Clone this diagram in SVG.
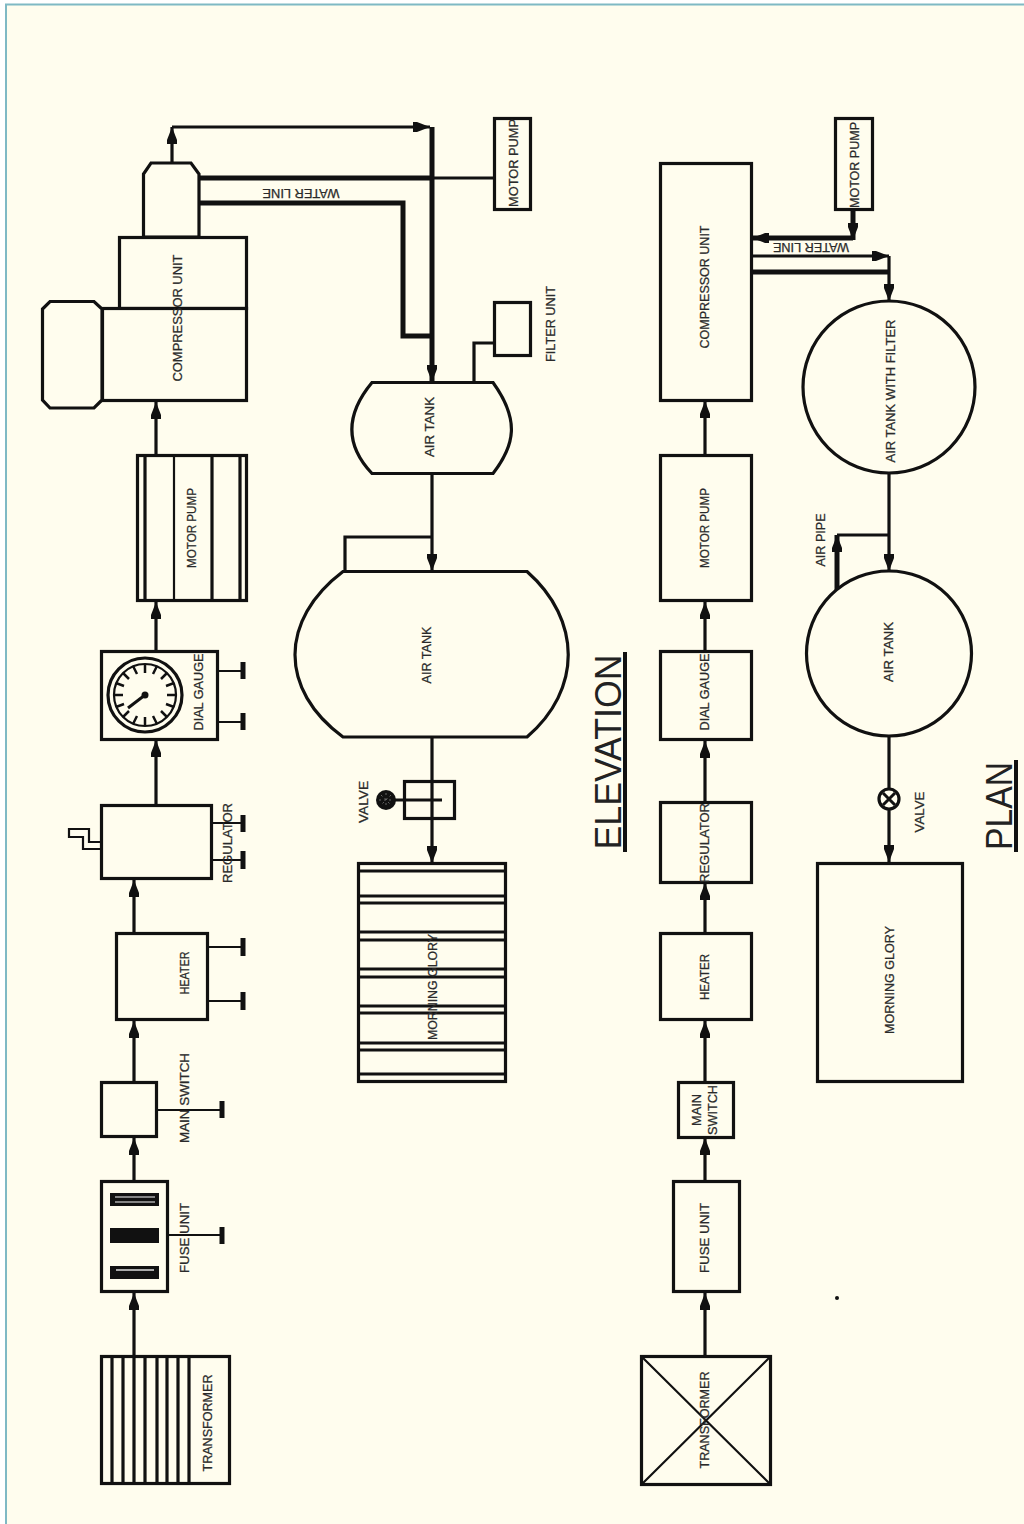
<svg xmlns="http://www.w3.org/2000/svg" width="1024" height="1524" viewBox="0 0 1024 1524">
<style>
.s{fill:none;stroke:#111;stroke-width:3.200}
.b{fill:#fffdee;stroke:#111;stroke-width:3.200}
.t{fill:none;stroke:#111;stroke-width:2.200}
.c{fill:none;stroke:#111;stroke-width:3.200}
.h{fill:none;stroke:#111;stroke-width:5}
text{font-family:"Liberation Sans",Arial,sans-serif;font-size:12px;fill:#2a2a2a;text-anchor:middle;stroke:#2a2a2a;stroke-width:.25}
.big{font-size:36px;fill:#222;stroke:none}
</style>
<defs>
<marker id="a" markerUnits="userSpaceOnUse" markerWidth="20" markerHeight="14" refX="17" refY="7" orient="auto"><path d="M0 2 L4 2 L17 7 L4 12 L0 12 Z" fill="#111"/></marker>
</defs>
<rect x="0" y="0" width="1024" height="1524" fill="#fffdee"/>
<path d="M0 2H1024M2.500 0V1524" stroke="#fff" stroke-width="5" fill="none"/>
<path d="M6 1524V4.500H1024" stroke="#7fb9c4" stroke-width="2" fill="none"/>

<g id="connectors">
<path class="c" marker-end="url(#a)" d="M134 1356V1293"/>
<path class="c" marker-end="url(#a)" d="M134 1181V1138"/>
<path class="c" marker-end="url(#a)" d="M134 1082V1021"/>
<path class="c" marker-end="url(#a)" d="M134 933V880"/>
<path class="c" marker-end="url(#a)" d="M156 805V740"/>
<path class="c" marker-end="url(#a)" d="M156 651V602"/>
<path class="c" marker-end="url(#a)" d="M156 455V402"/>
<path class="c" marker-end="url(#a)" d="M172 162V127"/>
<path class="c" marker-end="url(#a)" d="M172 127H430"/>
<path class="h" marker-end="url(#a)" d="M432 127V382"/>
<path class="h" d="M199 178H432"/>
<path class="c" d="M432 178H494"/>
<path class="h" d="M199 203H403V336H432"/>
<path class="c" d="M494 343H474V382"/>
<path class="c" marker-end="url(#a)" d="M432 473V571"/>
<path class="c" d="M432 537H345V571"/>
<path class="c" marker-end="url(#a)" d="M432 737V863"/>
<path class="c" marker-end="url(#a)" d="M705 1356V1293"/>
<path class="c" marker-end="url(#a)" d="M705 1181V1138"/>
<path class="c" marker-end="url(#a)" d="M705 1082V1021"/>
<path class="c" marker-end="url(#a)" d="M705 933V883"/>
<path class="c" marker-end="url(#a)" d="M705 802V741"/>
<path class="c" marker-end="url(#a)" d="M705 651V602"/>
<path class="c" marker-end="url(#a)" d="M705 455V401"/>
<path class="h" marker-end="url(#a)" d="M853 210V240"/>
<path class="h" marker-end="url(#a)" d="M853 238H752"/>
<path class="c" marker-end="url(#a)" d="M752 256H889"/>
<path class="h" d="M752 272H889"/>
<path class="c" marker-end="url(#a)" d="M889 256V301"/>
<path class="c" marker-end="url(#a)" d="M889 473V571"/>
<path class="c" d="M889 535H837"/>
<path class="h" marker-end="url(#a)" d="M837 592V535"/>
<path class="c" marker-end="url(#a)" d="M889 736V862"/>
</g>

<g id="elev-transformer">
<rect class="b" x="101.500" y="1356.500" width="128" height="127"/>
<path class="s" d="M112 1356V1484M123 1356V1484M134 1356V1484M145 1356V1484M157 1356V1484M167 1356V1484M178 1356V1484M189 1356V1484"/>
<text transform="translate(212 1423) rotate(-90)" textLength="97" lengthAdjust="spacingAndGlyphs">TRANSFORMER</text>
</g>
<g id="elev-fuse">
<rect class="b" x="101.500" y="1181.500" width="66" height="110"/>
<rect x="110" y="1193" width="49" height="13" fill="#111"/><path d="M115 1197H155M115 1202H155" stroke="#aaa" stroke-width="1.500"/>
<rect x="110" y="1228" width="49" height="15" fill="#111"/>
<rect x="110" y="1266" width="49" height="13" fill="#111"/><path d="M116 1270H154" stroke="#aaa" stroke-width="2"/>
<path class="t" d="M168 1235H222"/><path class="h" d="M222 1227V1244"/>
<text transform="translate(189 1238) rotate(-90)" textLength="70" lengthAdjust="spacingAndGlyphs">FUSE  UNIT</text>
</g>
<g id="elev-switch">
<rect class="b" x="101.500" y="1082.500" width="55" height="54"/>
<path class="t" d="M157 1110H222"/><path class="h" d="M222 1101V1118"/>
<text transform="translate(189 1098) rotate(-90)" textLength="90" lengthAdjust="spacingAndGlyphs">MAIN  SWITCH</text>
</g>
<g id="elev-heater">
<rect class="b" x="116.500" y="933.500" width="91" height="86"/>
<path class="t" d="M208 1001H243M208 947H243"/><path class="h" d="M243 992V1010M243 938V956"/>
<text transform="translate(189 973) rotate(-90)" textLength="43" lengthAdjust="spacingAndGlyphs">HEATER</text>
</g>
<g id="elev-regulator">
<rect class="b" x="101.500" y="805.500" width="110" height="73"/>
<path class="t" d="M101 849H83V837H69V829H89V842H101"/>
<path class="t" d="M211 823H243M211 860H243"/><path class="h" d="M243 815V832M243 851V869"/>
<text transform="translate(232 843) rotate(-90)" textLength="80" lengthAdjust="spacingAndGlyphs">REGULATOR</text>
</g>
<g id="elev-gauge">
<rect class="b" x="101.500" y="651.500" width="116" height="88"/>
<circle class="s" cx="145" cy="695" r="37"/><circle class="t" cx="145" cy="695" r="31"/>
<g stroke="#111" stroke-width="2.500">
<path d="M145 664V673M145 726V717M114 695H123M176 695H167M123 673L129 679M167 673L161 679M123 717L129 711M167 717L161 711M133 666L137 674M157 666L153 674M133 724L137 716M157 724L153 716M116 683L124 686M174 683L166 686M116 707L124 704M174 707L166 704"/>
<path d="M145 695L128 708" stroke-width="3"/></g><circle cx="145" cy="695" r="3.500" fill="#111"/>
<path class="t" d="M218 671H243M218 722H243"/><path class="h" d="M243 662V679M243 713V730"/>
<text transform="translate(203 692) rotate(-90)" textLength="77" lengthAdjust="spacingAndGlyphs">DIAL GAUGE</text>
</g>
<g id="elev-motor">
<rect class="b" x="137.500" y="455.500" width="109" height="145"/>
<path class="s" d="M145 455V601M212 455V601M240 455V601"/><path class="t" d="M174 455V601"/>
<text transform="translate(196 528) rotate(-90)" textLength="80" lengthAdjust="spacingAndGlyphs">MOTOR PUMP</text>
</g>
<g id="elev-compressor">
<path class="b" d="M143.500 237V174L151 163H191L199 174V237Z"/>
<rect class="b" x="119.500" y="237.500" width="127" height="71"/>
<rect class="b" x="102.500" y="308.500" width="144" height="92"/>
<path class="b" d="M50 301.500H94L102 309V400L94 408H50L42.500 400V309Z"/>
<text transform="translate(182 318) rotate(-90)" textLength="127" lengthAdjust="spacingAndGlyphs">COMPRESSOR UNIT</text>
</g>
<g id="elev-waterline">
<text transform="translate(301 189) rotate(180)" textLength="77" lengthAdjust="spacingAndGlyphs">WATER LINE</text>
</g>
<g id="elev-pump2">
<rect class="b" x="494.500" y="118.500" width="36" height="91"/>
<text transform="translate(518 163) rotate(-90)" textLength="88" lengthAdjust="spacingAndGlyphs">MOTOR PUMP</text>
</g>
<g id="elev-filter">
<rect class="b" x="494.500" y="302.500" width="36" height="53"/>
<text transform="translate(555 324) rotate(-90)" textLength="76" lengthAdjust="spacingAndGlyphs">FILTER UNIT</text>
</g>
<g id="elev-tank1">
<path class="b" d="M372 382.500H493C520 420 515 445 493 473.500H372C345 445 345 415 372 382.500Z"/>
<text transform="translate(434 427) rotate(-90)" textLength="60" lengthAdjust="spacingAndGlyphs">AIR TANK</text>
</g>
<g id="elev-tank2">
<path class="b" d="M343 571.500H527C582 620 582 690 527 737H343C279 690 279 620 343 571.500Z"/>
<text transform="translate(431 655) rotate(-90)" textLength="57" lengthAdjust="spacingAndGlyphs">AIR TANK</text>
</g>
<g id="elev-valve">
<rect class="s" x="404.500" y="781.500" width="50" height="37"/>
<path class="c" d="M395 800H442"/>
<circle cx="386" cy="800" r="10" fill="#111"/>
<path d="M386 793V807M379 800H393M381 795L391 805M391 795L381 805" stroke="#666" stroke-width="1" stroke-dasharray="2 3"/>
<text transform="translate(368 802) rotate(-90)" textLength="42" lengthAdjust="spacingAndGlyphs">VALVE</text>
</g>
<g id="elev-glory">
<rect class="b" x="358.500" y="863.500" width="147" height="218"/>
<path class="s" d="M358 871H506M358 896H506M358 903H506M358 932H506M358 940H506M358 969H506M358 977H506M358 1006H506M358 1013H506M358 1043H506M358 1050H506M358 1074H506"/>
<text transform="translate(437 987) rotate(-90)" textLength="106" lengthAdjust="spacingAndGlyphs">MORNING GLORY</text>
</g>
<g id="title-elevation">
<text class="big" transform="translate(621 752) rotate(-90)" textLength="195" lengthAdjust="spacingAndGlyphs">ELEVATION</text>
<path d="M625 652V852" stroke="#111" stroke-width="4"/>
</g>

<g id="plan-transformer">
<rect class="b" x="641.500" y="1356.500" width="129" height="128"/>
<path class="t" d="M642 1357L770 1484M770 1357L642 1484"/>
<text transform="translate(709 1420) rotate(-90)" textLength="97" lengthAdjust="spacingAndGlyphs">TRANSFORMER</text>
</g>
<g id="plan-fuse">
<rect class="b" x="673.500" y="1181.500" width="66" height="110"/>
<text transform="translate(709 1238) rotate(-90)" textLength="70" lengthAdjust="spacingAndGlyphs">FUSE  UNIT</text>
</g>
<g id="plan-switch">
<rect class="b" x="678.500" y="1082.500" width="55" height="55"/>
<text transform="translate(701 1110) rotate(-90)" textLength="32" lengthAdjust="spacingAndGlyphs">MAIN</text>
<text transform="translate(717 1110) rotate(-90)" textLength="50" lengthAdjust="spacingAndGlyphs">SWITCH</text>
</g>
<g id="plan-heater">
<rect class="b" x="660.500" y="933.500" width="91" height="86"/>
<text transform="translate(709 977) rotate(-90)" textLength="46" lengthAdjust="spacingAndGlyphs">HEATER</text>
</g>
<g id="plan-regulator">
<rect class="b" x="660.500" y="802.500" width="91" height="80"/>
<text transform="translate(709 843) rotate(-90)" textLength="80" lengthAdjust="spacingAndGlyphs">REGULATOR</text>
</g>
<g id="plan-gauge">
<rect class="b" x="660.500" y="651.500" width="91" height="88"/>
<text transform="translate(709 692) rotate(-90)" textLength="77" lengthAdjust="spacingAndGlyphs">DIAL GAUGE</text>
</g>
<g id="plan-motor">
<rect class="b" x="660.500" y="455.500" width="91" height="145"/>
<text transform="translate(709 528) rotate(-90)" textLength="80" lengthAdjust="spacingAndGlyphs">MOTOR PUMP</text>
</g>
<g id="plan-compressor">
<rect class="b" x="660.500" y="163.500" width="91" height="237"/>
<text transform="translate(709 287) rotate(-90)" textLength="123" lengthAdjust="spacingAndGlyphs">COMPRESSOR UNIT</text>
</g>
<g id="plan-pump2">
<rect class="b" x="835.500" y="118.500" width="37" height="91"/>
<text transform="translate(859 165) rotate(-90)" textLength="86" lengthAdjust="spacingAndGlyphs">MOTOR PUMP</text>
</g>
<g id="plan-waterline">
<text transform="translate(811 243) rotate(180)" textLength="76" lengthAdjust="spacingAndGlyphs">WATER LINE</text>
</g>
<g id="plan-tank1">
<circle class="b" cx="889" cy="387" r="86"/>
<text transform="translate(895 391) rotate(-90)" textLength="143" lengthAdjust="spacingAndGlyphs">AIR TANK WITH FILTER</text>
</g>
<g id="plan-tank2">
<circle class="b" cx="889" cy="653.500" r="82.500"/>
<text transform="translate(893 652) rotate(-90)" textLength="60" lengthAdjust="spacingAndGlyphs">AIR TANK</text>
<text transform="translate(825 540) rotate(-90)" textLength="53" lengthAdjust="spacingAndGlyphs">AIR PIPE</text>
</g>
<g id="plan-valve">
<circle class="b" cx="889" cy="799" r="10"/>
<path d="M883 793L895 805M895 793L883 805" stroke="#111" stroke-width="3"/>
<text transform="translate(924 812) rotate(-90)" textLength="41" lengthAdjust="spacingAndGlyphs">VALVE</text>
</g>
<g id="plan-glory">
<rect class="b" x="817.500" y="863.500" width="145" height="218"/>
<text transform="translate(894 980) rotate(-90)" textLength="108" lengthAdjust="spacingAndGlyphs">MORNING GLORY</text>
</g>
<g id="title-plan">
<text class="big" transform="translate(1012 806) rotate(-90)" textLength="88" lengthAdjust="spacingAndGlyphs">PLAN</text>
<path d="M1016 760V852" stroke="#111" stroke-width="4"/>
</g>
<circle id="stray-dot" cx="837" cy="1298" r="2" fill="#111"/>
</svg>
